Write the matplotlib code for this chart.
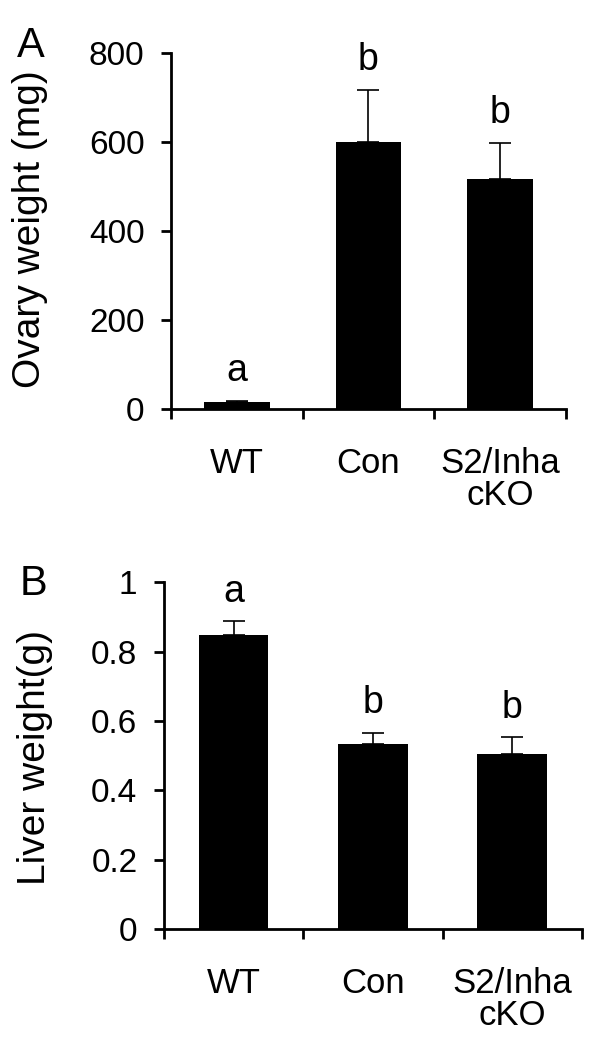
import matplotlib
matplotlib.use("Agg")
import matplotlib.pyplot as plt
from matplotlib.ticker import FuncFormatter

plt.rcParams['font.family'] = ['Liberation Sans', 'DejaVu Sans']

# data
groups = ["WT", "Con", "S2/Inha\ncKO"]

ovary_mean = [16, 600, 516]    # mg
ovary_err = [3, 117, 82]
ovary_sig = ["a", "b", "b"]

liver_mean = [0.848, 0.533, 0.505]   # g
liver_err = [0.040, 0.034, 0.048]
liver_sig = ["a", "b", "b"]


def bar_panel(ax, means, errs, sig, ymax, yticks):
    x = range(len(means))
    ax.bar(x, means, width=0.5, color='black', zorder=2)
    # only the upper half of the error bar is shown
    ax.errorbar(x, means, yerr=[[0] * len(errs), errs], fmt='none',
                ecolor='black', elinewidth=1.2, capsize=8, capthick=1.2, zorder=3)
    for i in x:
        ax.annotate(sig[i], (i, means[i] + errs[i]), xytext=(0, 14),
                    textcoords='offset points', ha='center', va='baseline',
                    fontsize=27)

    ax.set_xlim(-0.5, len(means) - 0.5)
    ax.set_ylim(0, ymax)
    ax.set_yticks(yticks)
    ax.yaxis.set_major_formatter(FuncFormatter(lambda v, p: '%g' % v))

    # excel style: ticks between the groups, labels centred under the bars
    ax.set_xticks([i - 0.5 for i in range(len(means) + 1)])
    ax.set_xticklabels([])
    ax.set_xticks(list(x), minor=True)
    ax.set_xticklabels(groups, minor=True, fontsize=25, linespacing=0.98)
    ax.tick_params(axis='x', which='major', direction='out', length=7, width=2)
    ax.tick_params(axis='x', which='minor', length=0, pad=27)
    ax.tick_params(axis='y', direction='out', length=7, width=2, labelsize=24, pad=12)

    ax.spines['top'].set_visible(False)
    ax.spines['right'].set_visible(False)
    ax.spines['left'].set_linewidth(2)
    ax.spines['bottom'].set_linewidth(2)


fig = plt.figure(figsize=(6, 10.57), dpi=100)

axA = fig.add_axes([0.285, 0.613, 0.658, 0.337])
bar_panel(axA, ovary_mean, ovary_err, ovary_sig, 800, [0, 200, 400, 600, 800])

axB = fig.add_axes([0.273, 0.121, 0.697, 0.328])
bar_panel(axB, liver_mean, liver_err, liver_sig, 1, [0, 0.2, 0.4, 0.6, 0.8, 1])

fig.text(0.050, 0.783, "Ovary weight (mg)", rotation=90, ha='center', va='center', fontsize=28)
fig.text(0.058, 0.283, "Liver weight(g)", rotation=90, ha='center', va='center', fontsize=28)

fig.text(0.028, 0.946, "A", fontsize=30, va='baseline')
fig.text(0.032, 0.437, "B", fontsize=30, va='baseline')

fig.savefig("out.png", dpi=100)
